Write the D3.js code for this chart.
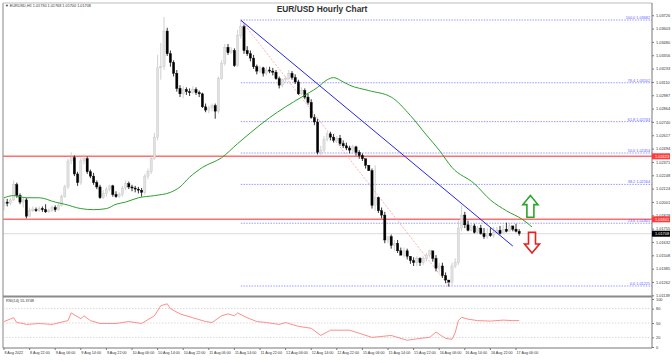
<!DOCTYPE html>
<html lang="en">
<head>
<meta charset="utf-8">
<title>EUR/USD Hourly Chart</title>
<script src="https://cdn.jsdelivr.net/npm/d3@7"></script>
<style>
  body { margin: 0; background: #fff; }
  text { font-family: "Liberation Sans", Arial, sans-serif; }
</style>
</head>
<body>
<script>
// hourly candles, 8 Aug 14:00 .. 17 Aug 07:00 (bar index = position)
var opens = [1.0197,1.0200,1.0199,1.0202,1.0216,1.0206,1.0200,1.0202,1.0187,1.0192,1.0193,1.0192,1.0194,1.0193,1.0191,1.0192,1.0195,1.0193,1.0197,1.0205,
  1.0214,1.0238,1.0241,1.0226,1.0218,1.0238,1.0240,1.0228,1.0224,1.0218,1.0214,1.0204,1.0208,1.0212,1.0215,1.0207,1.0205,1.0207,1.0213,1.0217,
  1.0214,1.0213,1.0212,1.0211,1.0209,1.0224,1.0228,1.0240,1.0260,1.0324,1.0325,1.0358,1.0337,1.0329,1.0319,1.0305,1.0300,1.0304,1.0302,1.0301,
  1.0304,1.0301,1.0300,1.0288,1.0285,1.0287,1.0289,1.0284,1.0314,1.0328,1.0343,1.0338,1.0340,1.0326,1.0354,1.0362,1.0340,1.0337,1.0333,1.0325,
  1.0321,1.0324,1.0319,1.0322,1.0321,1.0320,1.0314,1.0308,1.0313,1.0314,1.0319,1.0315,1.0311,1.0300,1.0303,1.0297,1.0292,1.0278,1.0274,1.0246,
  1.0248,1.0258,1.0263,1.0260,1.0257,1.0259,1.0254,1.0252,1.0250,1.0248,1.0251,1.0246,1.0243,1.0240,1.0234,1.0229,1.0197,1.0204,1.0192,1.0188,
  1.0165,1.0168,1.0160,1.0162,1.0155,1.0151,1.0155,1.0150,1.0146,1.0144,1.0148,1.0144,1.0148,1.0151,1.0155,1.0148,1.0139,1.0141,1.0132,1.0128,
  1.0126,1.0141,1.0144,1.0176,1.0188,1.0179,1.0174,1.0178,1.0172,1.0176,1.0171,1.0168,1.0171,1.0169,1.0172,1.0174,1.0171,1.0175,1.0173,1.0178,
  1.0175,1.0173];
var highs = [1.0204,1.0203,1.0204,1.0220,1.0218,1.0208,1.0205,1.0204,1.0195,1.0196,1.0195,1.0196,1.0196,1.0198,1.0194,1.0197,1.0197,1.0199,1.0207,1.0216,
  1.0240,1.0246,1.0243,1.0228,1.0241,1.0244,1.0242,1.0230,1.0227,1.0220,1.0216,1.0211,1.0214,1.0216,1.0216,1.0210,1.0209,1.0215,1.0220,1.0219,
  1.0216,1.0215,1.0214,1.0213,1.0226,1.0231,1.0243,1.0264,1.0336,1.0347,1.0371,1.0361,1.0340,1.0331,1.0322,1.0308,1.0307,1.0306,1.0305,1.0307,
  1.0306,1.0303,1.0301,1.0291,1.0289,1.0291,1.0291,1.0316,1.0331,1.0346,1.0346,1.0343,1.0342,1.0359,1.0368,1.0364,1.0344,1.0340,1.0336,1.0327,
  1.0326,1.0325,1.0325,1.0325,1.0324,1.0322,1.0316,1.0314,1.0316,1.0322,1.0321,1.0318,1.0313,1.0306,1.0305,1.0300,1.0295,1.0281,1.0277,1.0252,
  1.0261,1.0265,1.0265,1.0263,1.0261,1.0262,1.0257,1.0255,1.0252,1.0253,1.0252,1.0248,1.0245,1.0240,1.0234,1.0231,1.0234,1.0205,1.0195,1.0191,
  1.0168,1.0170,1.0165,1.0165,1.0158,1.0158,1.0157,1.0147,1.0149,1.0150,1.0149,1.0150,1.0153,1.0156,1.0154,1.0151,1.0144,1.0144,1.0135,1.0125,
  1.0144,1.0148,1.0183,1.0197,1.0191,1.0183,1.0180,1.0180,1.0178,1.0179,1.0176,1.0176,1.0176,1.0177,1.0177,1.0178,1.0179,1.0181,1.0181,1.0178,
  1.0180,1.0175];
var lows = [1.0192,1.0196,1.0197,1.0201,1.0204,1.0198,1.0195,1.0185,1.0186,1.0191,1.0191,1.0191,1.0191,1.0190,1.0190,1.0191,1.0191,1.0192,1.0196,1.0204,
  1.0212,1.0235,1.0224,1.0215,1.0216,1.0235,1.0226,1.0222,1.0216,1.0212,1.0203,1.0203,1.0205,1.0210,1.0205,1.0204,1.0204,1.0205,1.0211,1.0212,
  1.0210,1.0209,1.0208,1.0205,1.0207,1.0221,1.0226,1.0239,1.0257,1.0313,1.0322,1.0335,1.0325,1.0316,1.0302,1.0297,1.0296,1.0299,1.0298,1.0300,
  1.0299,1.0297,1.0287,1.0283,1.0282,1.0284,1.0277,1.0282,1.0313,1.0326,1.0336,1.0337,1.0325,1.0325,1.0351,1.0337,1.0335,1.0330,1.0323,1.0318,
  1.0319,1.0316,1.0317,1.0319,1.0317,1.0313,1.0305,1.0306,1.0311,1.0313,1.0313,1.0309,1.0299,1.0299,1.0295,1.0290,1.0277,1.0271,1.0244,1.0243,
  1.0246,1.0256,1.0257,1.0255,1.0255,1.0252,1.0250,1.0248,1.0245,1.0245,1.0243,1.0240,1.0238,1.0231,1.0229,1.0194,1.0192,1.0190,1.0185,1.0162,
  1.0162,1.0157,1.0155,1.0153,1.0151,1.0149,1.0147,1.0143,1.0141,1.0141,1.0141,1.0142,1.0145,1.0149,1.0145,1.0136,1.0135,1.0130,1.0125,1.0122,
  1.0123,1.0139,1.0142,1.0173,1.0176,1.0173,1.0173,1.0171,1.0171,1.0170,1.0166,1.0166,1.0168,1.0167,1.0171,1.0170,1.0171,1.0172,1.0174,1.0173,
  1.0172,1.0169];
var closes = [1.0200,1.0199,1.0202,1.0216,1.0206,1.0200,1.0202,1.0187,1.0192,1.0193,1.0192,1.0194,1.0193,1.0191,1.0192,1.0195,1.0193,1.0197,1.0205,1.0214,
  1.0238,1.0241,1.0226,1.0218,1.0238,1.0240,1.0228,1.0224,1.0218,1.0214,1.0204,1.0208,1.0212,1.0215,1.0207,1.0205,1.0207,1.0213,1.0217,1.0214,
  1.0213,1.0212,1.0211,1.0209,1.0224,1.0228,1.0240,1.0260,1.0324,1.0325,1.0358,1.0337,1.0329,1.0319,1.0305,1.0300,1.0304,1.0302,1.0301,1.0304,
  1.0301,1.0300,1.0288,1.0285,1.0287,1.0289,1.0284,1.0314,1.0328,1.0343,1.0338,1.0340,1.0326,1.0354,1.0362,1.0340,1.0337,1.0333,1.0325,1.0321,
  1.0324,1.0319,1.0322,1.0321,1.0320,1.0314,1.0308,1.0313,1.0314,1.0319,1.0315,1.0311,1.0300,1.0303,1.0297,1.0292,1.0278,1.0274,1.0246,1.0248,
  1.0258,1.0263,1.0260,1.0257,1.0259,1.0254,1.0252,1.0250,1.0248,1.0251,1.0246,1.0243,1.0240,1.0234,1.0229,1.0197,1.0204,1.0192,1.0188,1.0165,
  1.0168,1.0160,1.0162,1.0155,1.0151,1.0155,1.0150,1.0146,1.0144,1.0148,1.0144,1.0148,1.0151,1.0155,1.0148,1.0139,1.0141,1.0132,1.0128,1.0126,
  1.0141,1.0144,1.0176,1.0188,1.0179,1.0174,1.0178,1.0172,1.0176,1.0171,1.0168,1.0171,1.0169,1.0172,1.0174,1.0171,1.0175,1.0173,1.0178,1.0175,
  1.0173,1.0171];

// moving average (green), sampled at bar index
var maBars = [0,3,7,11,16,19,24,28,32,35,38,42,47,52,55,58,62,68,73,77,83,88,93,98,101,103,106,108,114,121,127,132,136,140,147,152,157,162,165];
var maVals = [1.0204,1.0206,1.0204,1.0204,1.0200,1.0198,1.0194,1.0193,1.0194,1.0198,1.0200,1.0204,1.0206,1.0209,1.0214,1.0223,1.0232,1.0241,1.0254,1.0264,
  1.0278,1.0288,1.0297,1.0306,1.0313,1.0315,1.0311,1.0308,1.0303,1.0297,1.0280,1.0262,1.0248,1.0232,1.0217,1.0202,1.0192,1.0184,1.0177];

// RSI(14), sampled at bar index
var rsiBars = [0,3,4,6,7,11,15,20,21,24,25,27,30,35,39,43,47,49,51,52,55,59,63,65,68,70,72,73,76,79,82,86,88,92,96,99,102,108,115,121,126,130,133,135,138,140,141,142,143,145,148,152,156,159,161];
var rsiVals = [53,61,51,49,47,49,47,55,71,59,65,55,49,49,53,49,65,86,90,80,69,61,53,51,65,69,65,71,61,53,51,47,51,43,39,24,35,35,20,24,14,18,20,31,18,16,30,55,62,58,55,54,56,55,55];

// x-axis labels every 8 bars
var timeLabels = ["8 Aug 2022","8 Aug 22:00","9 Aug 06:00","9 Aug 14:00","9 Aug 22:00","10 Aug 06:00","10 Aug 14:00","10 Aug 22:00",
  "11 Aug 06:00","11 Aug 14:00","11 Aug 22:00","12 Aug 06:00","12 Aug 14:00","12 Aug 22:00","15 Aug 06:00","15 Aug 14:00",
  "15 Aug 22:00","16 Aug 06:00","16 Aug 14:00","16 Aug 22:00","17 Aug 06:00"];

// fibonacci retracement from 11 Aug high to 16 Aug low
var fibHigh = 1.03682, fibLow = 1.01225, fibHighBar = 74, fibLowBar = 139;
var fibLevels = [0, 23.6, 38.2, 50, 61.8, 76.4, 100];

// horizontal levels, trend line, last price
var redLevels = [1.02423, 1.01841];
var trendBars = [74, 159], trendVals = [1.0368, 1.01594];
var lastPrice = 1.01708;
var header = "EURUSD,H1  1.01730 1.01768 1.01700 1.01708";
var rsiLabel = "RSI(14) 55.3748";

var W = 672, H = 363;
var padL = 3, padR = 652, padT = 4, mainBottom = 296, rsiBottom = 348;

var svg = d3.select("body").append("svg")
  .attr("width", W).attr("height", H);

var x = d3.scaleLinear().domain([0, 160]).range([4, 516]);
var y = d3.scaleLinear().domain([fibLow, fibHigh]).range([286, 20]);
var yr = d3.scaleLinear().domain([0, 100]).range([347, 299]);

svg.append("clipPath").attr("id", "clipMain")
  .append("rect").attr("x", padL).attr("y", padT).attr("width", padR - padL).attr("height", mainBottom - padT);
var plot = svg.append("g").attr("clip-path", "url(#clipMain)");

// red support / resistance lines
plot.selectAll(".lvl").data(redLevels).enter().append("line")
  .attr("x1", padL).attr("x2", padR)
  .attr("y1", d => y(d)).attr("y2", d => y(d))
  .attr("stroke", "#ff6f6f").attr("stroke-width", 1.4);

// last price line
plot.append("line")
  .attr("x1", padL).attr("x2", padR)
  .attr("y1", y(lastPrice)).attr("y2", y(lastPrice))
  .attr("stroke", "#d0d0d0").attr("stroke-width", 0.8);

// fib levels
var fibRange = fibHigh - fibLow;
plot.selectAll(".fib").data(fibLevels).enter().append("line")
  .attr("x1", x(fibHighBar)).attr("x2", padR)
  .attr("y1", d => y(fibLow + fibRange * d / 100)).attr("y2", d => y(fibLow + fibRange * d / 100))
  .attr("stroke", "#8080ff").attr("stroke-width", 0.8).attr("stroke-dasharray", "1.5,1.2");
plot.selectAll(".fibt").data(fibLevels).enter().append("text")
  .attr("x", 650).attr("y", d => y(fibLow + fibRange * d / 100) - 1)
  .attr("text-anchor", "end").attr("font-size", 3.8).attr("fill", "#6060ff")
  .text(d => d3.format(".1f")(d) + " " + d3.format(".5f")(fibLow + fibRange * d / 100));
plot.append("line")
  .attr("x1", x(fibHighBar)).attr("y1", y(fibHigh))
  .attr("x2", x(fibLowBar)).attr("y2", y(fibLow))
  .attr("stroke", "#ff9a9a").attr("stroke-width", 0.8).attr("stroke-dasharray", "2,1.5");

// candles
var bars = d3.range(closes.length).map(i => ({i: i, o: opens[i], h: highs[i], l: lows[i], c: closes[i]}));
var cg = plot.selectAll(".candle").data(bars).enter().append("g");
cg.append("line")
  .attr("x1", d => x(d.i)).attr("x2", d => x(d.i))
  .attr("y1", d => y(d.h)).attr("y2", d => y(d.l))
  .attr("stroke", d => d.c >= d.o ? "#c4c4c4" : "#000").attr("stroke-width", 0.8);
cg.append("rect")
  .attr("x", d => x(d.i) - 1.1).attr("width", 2.2)
  .attr("y", d => y(Math.max(d.o, d.c)))
  .attr("height", d => Math.max(0.8, Math.abs(y(d.o) - y(d.c))))
  .attr("fill", d => d.c >= d.o ? "#e2e2e2" : "#000")
  .attr("stroke", d => d.c >= d.o ? "#c4c4c4" : "#000").attr("stroke-width", 0.4);

// moving average
plot.append("path")
  .datum(d3.range(maBars.length))
  .attr("fill", "none").attr("stroke", "#2fa02f").attr("stroke-width", 1)
  .attr("d", d3.line().x(k => x(maBars[k])).y(k => y(maVals[k])).curve(d3.curveMonotoneX));

// trend line
plot.append("line")
  .attr("x1", x(trendBars[0])).attr("y1", y(trendVals[0]))
  .attr("x2", x(trendBars[1])).attr("y2", y(trendVals[1]))
  .attr("stroke", "#2525e6").attr("stroke-width", 1);

// arrows
function arrow(cx, yTip, yEnd, color) {
  var dir = yEnd > yTip ? 1 : -1, len = Math.abs(yEnd - yTip), hw = 7.5, sw = 3.5, hh = 9;
  var p = [[cx, yTip], [cx + hw, yTip + dir * hh], [cx + sw, yTip + dir * hh], [cx + sw, yTip + dir * len],
    [cx - sw, yTip + dir * len], [cx - sw, yTip + dir * hh], [cx - hw, yTip + dir * hh]];
  plot.append("path").attr("d", "M" + p.join("L") + "Z")
    .attr("fill", "#fff").attr("stroke", color).attr("stroke-width", 1.6);
}
arrow(x(164.5), y(1.0206), y(1.0186), "#2aa52a");
arrow(x(165), y(1.0153), y(1.0172), "#e82020");

// frame
svg.append("line").attr("x1", padL).attr("x2", padL).attr("y1", padT - 1).attr("y2", rsiBottom).attr("stroke", "#9a9a9a").attr("stroke-width", 1.2);
svg.append("line").attr("x1", padL).attr("x2", padR).attr("y1", padT - 1).attr("y2", padT - 1).attr("stroke", "#bdbdbd").attr("stroke-width", 1);
svg.append("line").attr("x1", padR).attr("x2", padR).attr("y1", padT - 1).attr("y2", rsiBottom).attr("stroke", "#777").attr("stroke-width", 1);
svg.append("line").attr("x1", padL).attr("x2", padR).attr("y1", mainBottom + 0.5).attr("y2", mainBottom + 0.5).attr("stroke", "#8a8a8a").attr("stroke-width", 2);
svg.append("line").attr("x1", padL).attr("x2", padR).attr("y1", rsiBottom).attr("y2", rsiBottom).attr("stroke", "#777").attr("stroke-width", 1);

// price axis
var yTicks = d3.range(22).map(k => 1.03726 - k * 0.001232);
var ya = svg.append("g").attr("transform", "translate(" + padR + ",0)")
  .call(d3.axisRight(y).tickValues(yTicks).tickSize(2).tickFormat(d3.format(".5f")));
ya.select(".domain").remove();
ya.selectAll("line").attr("stroke", "#777");
ya.selectAll("text").attr("font-size", 3.9).attr("fill", "#333").attr("x", 4).attr("font-family", "Liberation Sans, Arial, sans-serif");

// axis boxes
function tag(v, bg) {
  var g = svg.append("g").attr("transform", "translate(" + padR + "," + y(v) + ")");
  g.append("rect").attr("x", 0).attr("y", -3).attr("width", 18).attr("height", 6).attr("fill", bg);
  g.append("text").attr("x", 3).attr("y", 1.5).attr("font-size", 3.9).attr("fill", "#fff").text(d3.format(".5f")(v));
}
redLevels.forEach(v => tag(v, "#ff3b3b"));
tag(lastPrice, "#000");

// RSI panel
svg.selectAll(".rsig").data([80, 50, 20]).enter().append("line")
  .attr("x1", padL).attr("x2", padR).attr("y1", d => yr(d)).attr("y2", d => yr(d))
  .attr("stroke", "#c8c8c8").attr("stroke-width", 0.7).attr("stroke-dasharray", "1.5,1.5");
svg.append("path")
  .datum(d3.range(rsiBars.length))
  .attr("fill", "none").attr("stroke", "#ff8080").attr("stroke-width", 0.9)
  .attr("d", d3.line().x(k => x(rsiBars[k])).y(k => yr(rsiVals[k])));
var ra = svg.append("g").attr("transform", "translate(" + padR + ",0)")
  .call(d3.axisRight(yr).tickValues([100, 80, 50, 20, 0]).tickSize(2));
ra.select(".domain").remove();
ra.selectAll("line").attr("stroke", "#777");
ra.selectAll("text").attr("font-size", 3.9).attr("fill", "#333").attr("x", 4).attr("font-family", "Liberation Sans, Arial, sans-serif");
svg.append("text").attr("x", 6).attr("y", 301.5).attr("font-size", 3.8).attr("fill", "#333").text(rsiLabel);

// time axis
var xa = svg.append("g").attr("transform", "translate(0," + rsiBottom + ")");
xa.selectAll("line").data(timeLabels).enter().append("line")
  .attr("x1", (d, k) => x(k * 8)).attr("x2", (d, k) => x(k * 8))
  .attr("y1", 0).attr("y2", 2).attr("stroke", "#777");
xa.selectAll("text").data(timeLabels).enter().append("text")
  .attr("x", (d, k) => x(k * 8) + 0.5).attr("y", 6)
  .attr("font-size", 3.7).attr("fill", "#333").text(d => d);

// header and title
svg.append("text").attr("x", 5).attr("y", 7).attr("font-size", 3.8).attr("fill", "#333").text("\u25BC " + header);
svg.append("text").attr("x", 322).attr("y", 12).attr("text-anchor", "middle")
  .attr("font-size", 8.4).attr("font-weight", "bold").attr("fill", "#333").text("EUR/USD Hourly Chart");
</script>
</body>
</html>
